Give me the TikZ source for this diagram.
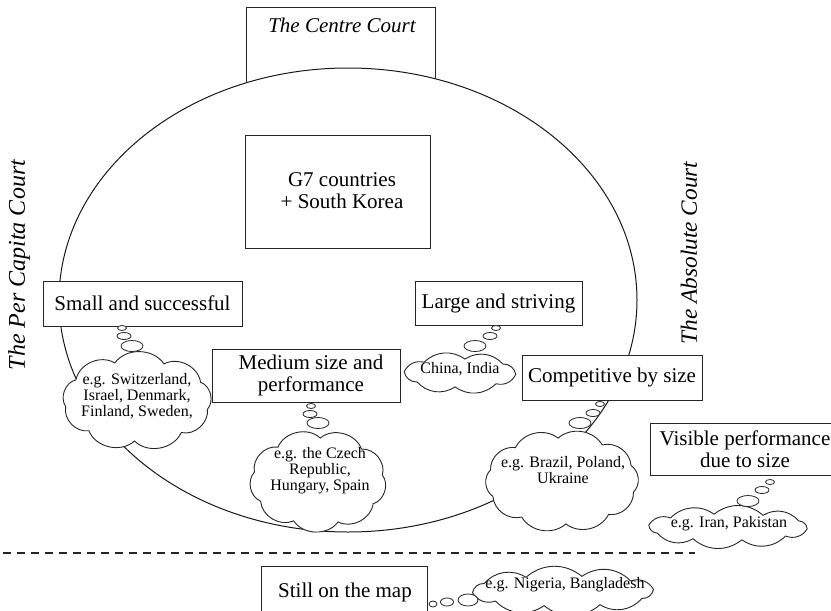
\documentclass[tikz,border=0pt]{standalone}
\usepackage{fontspec}
\setmainfont{Liberation Serif}
\usetikzlibrary{shapes.geometric}
% cloud drawn as a ring of outward arcs between points on an ellipse
% #1 cx, #2 cy, #3 a, #4 b, #5 puffs, #6 start angle, #7 bend angle
\newcommand\mycloud[7]{%
  \draw[cloudline] ([shift={(#1,#2)}]#6:#3 and #4)
    \foreach \k in {1,...,#5} { to[bend left=#7] ([shift={(#1,#2)}]#6+\k*360/#5:#3 and #4) } -- cycle;}
\begin{document}
\begin{tikzpicture}[x=1pt,y=-1pt,
  boxlbl/.style={rectangle, draw=black!85, fill=white, line width=0.9pt, inner sep=0pt, align=center, font=\fontsize{21}{22}\selectfont},
  bigtxt/.style={inner sep=0pt, align=center, font=\fontsize{21}{22}\selectfont},
  sidetxt/.style={inner sep=0pt, font=\fontsize{21}{22}\selectfont\itshape},
  cloudline/.style={draw=black!85, fill=white, line width=0.9pt},
  cloudtxt/.style={inner sep=0pt, align=center, font=\fontsize{16}{16}\selectfont},
  bub/.style={ellipse, draw=black!85, fill=white, line width=0.8pt, inner sep=0pt},
  bs/.style={bub, minimum width=9, minimum height=5},
  bm/.style={bub, minimum width=14, minimum height=7},
  bl/.style={bub, minimum width=22, minimum height=11}
]
\useasboundingbox (0,0) rectangle (831,611);
\clip (0,0) rectangle (831,611);

% Centre court box (its lower part hidden by the ellipse)
\node[boxlbl, minimum width=189, minimum height=113] (centrebox) at (340.5,63.5) {};
\node[sidetxt] (centretxt) at (342,25) {The Centre Court};

% main ellipse
\node[ellipse, draw=black!90, fill=white, line width=1pt, inner sep=0pt, minimum width=578, minimum height=464] (court) at (348,300) {};

% side labels
\node[sidetxt, rotate=90, font=\fontsize{24}{24}\selectfont\itshape] (percap) at (19,265) {The Per Capita Court};
\node[sidetxt, rotate=90, font=\fontsize{23.3}{24}\selectfont\itshape] (absolute) at (689,253) {The Absolute Court};

% boxes
\node[boxlbl, minimum width=185, minimum height=113] (g7) at (337.5,191.5) {};
\node[bigtxt] (g7txt) at (342,191) {G7 countries\\+ South Korea};

\node[boxlbl, minimum width=199, minimum height=45] (small) at (142.5,303.5) {Small and successful};
\node[boxlbl, minimum width=167, minimum height=44] (large) at (498.5,303) {Large and striving};
\node[boxlbl, minimum width=188, minimum height=53] (medium) at (306,375.5) {};
\node[bigtxt] (mediumtxt) at (311,375) {Medium size and\\performance};
\node[boxlbl, minimum width=180, minimum height=45] (compet) at (612,377.5) {Competitive by size};
\node[boxlbl, minimum width=190, minimum height=52] (visible) at (745,449) {Visible performance\\due to size};
\node[boxlbl, minimum width=166, minimum height=60, anchor=north] (still) at (344,566) {};
\node[bigtxt] (stilltxt) at (345,592) {Still on the map};

% dashed separator
\coordinate (dashL) at (3,553);
\coordinate (dashR) at (695,553);
\draw[line width=1.4pt, dash pattern=on 8pt off 6pt, black!85] (dashL) -- (dashR);

% clouds
\mycloud{137}{401}{72}{40}{9}{12}{55}
\node[cloudtxt] (tswiss) at (137,396) {e.g. Switzerland,\\Israel, Denmark,\\Finland, Sweden,};
\node[bs] (bsw1) at (122,328) {};
\node[bm] (bsw2) at (124,336) {};
\node[bl] (bsw3) at (132,346) {};

\mycloud{318}{481}{65}{43}{9}{-8}{55}
\node[cloudtxt] (tczech) at (320,471) {e.g. the Czech\\Republic,\\Hungary, Spain};
\node[bs] (bcz1) at (311,406) {};
\node[bm] (bcz2) at (310,414) {};
\node[bl] (bcz3) at (318,423) {};

\mycloud{460}{373}{56}{14}{8}{5}{40}
\node[cloudtxt] (tchina) at (460,369) {China, India};
\node[bs] (bch1) at (496,328) {};
\node[bm] (bch2) at (490,336) {};
\node[bl] (bch3) at (475,346) {};

\mycloud{562}{481}{74}{43}{10}{15}{50}
\node[cloudtxt] (tbrazil) at (563,470) {e.g. Brazil, Poland,\\Ukraine};
\node[bs] (bbr1) at (600,404) {};
\node[bm] (bbr2) at (593,413) {};
\node[bl] (bbr3) at (580,423) {};

\mycloud{728}{527}{80}{13}{10}{8}{40}
\node[cloudtxt] (tiran) at (729,524) {e.g. Iran, Pakistan};
\node[bs] (bir1) at (770,482) {};
\node[bm] (bir2) at (762,490) {};
\node[bl] (bir3) at (748,501) {};

\mycloud{563}{591}{91}{15}{10}{-6}{40}
\node[cloudtxt] (tnigeria) at (565,585) {e.g. Nigeria, Bangladesh};
\node[bub, minimum width=8, minimum height=6] (bng1) at (433,604) {};
\node[bub, minimum width=13, minimum height=8] (bng2) at (447,602) {};
\node[bub, minimum width=20, minimum height=12] (bng3) at (468,600) {};
\end{tikzpicture}
\end{document}
